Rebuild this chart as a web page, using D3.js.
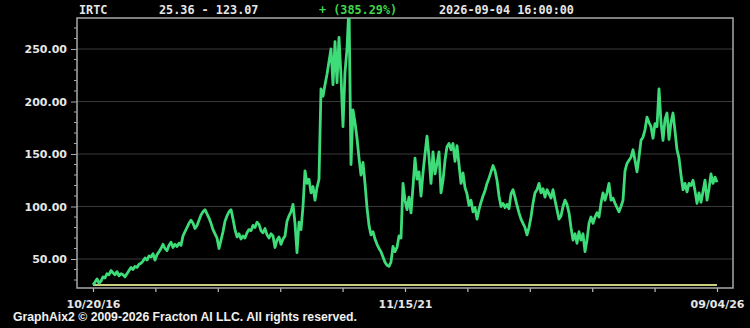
<!doctype html>
<html lang="en">
  <head>
    <meta charset="utf-8">
    <script src="https://cdn.jsdelivr.net/npm/d3@7/dist/d3.min.js"></script>
    <style>
      html, body { margin:0; padding:0; background:#000 }
      svg { display:block }
      .ylab, .xlab { font-family: "DejaVu Sans", sans-serif; font-weight:bold; font-size:11px; fill:#e6e6e6 }
      .head { font-family: "DejaVu Sans Mono", monospace; font-weight:bold; font-size:11.8px; fill:#e6e6e6 }
    </style>
    <title>IRTC</title>
  </head>
  <body>
    <script>
      // closing prices, evenly spaced sessions
      const closes = [
        25.4, 28, 31, 27, 29, 33, 32, 36, 35, 39,
        37, 35, 38, 34, 36, 35, 33, 36, 39, 42,
        40, 43, 42, 45, 46, 48, 51, 49, 53, 52,
        55, 49, 54, 57, 60, 64, 60, 58, 63, 66,
        61, 64, 62, 65, 63, 72, 76, 80, 84, 87,
        84, 79, 82, 87, 92, 95, 97, 93, 89, 84,
        78, 74, 70, 60, 68, 76, 86, 91, 95, 97,
        88, 78, 71, 74, 69, 72, 70, 75, 78, 77,
        82, 80, 85, 83, 77, 75, 79, 73, 70, 74,
        72, 61, 68, 71, 64, 69, 72, 86, 91, 95,
        102, 84, 56, 85, 78, 100, 134, 122, 126, 113,
        119, 106, 118, 126, 212, 205, 216, 226, 238, 250,
        216, 257, 218, 261, 224, 176, 228, 250, 292, 140,
        192, 180, 165, 146, 130, 142, 122, 99, 82, 73,
        76, 69, 64, 60, 57, 52, 47, 44, 43, 47,
        62, 57, 61, 72, 70, 122, 106, 97, 109, 94,
        119, 146, 126, 133, 110, 132, 150, 167, 147, 122,
        152, 131, 141, 152, 113, 125, 144, 157, 160, 154,
        160, 143, 158, 140, 122, 132, 118, 112, 101, 106,
        95, 99, 88, 97, 104, 110, 115, 122, 127, 133,
        139, 134, 125, 110, 100, 103, 99, 102, 98, 112,
        116, 109, 101, 94, 88, 84, 80, 73, 80, 90,
        103, 113, 116, 122, 113, 117, 109, 116, 112, 108,
        116, 106, 97, 88, 91, 100, 106, 102, 94, 80,
        68, 74, 65, 76, 68, 74, 57, 68, 84, 90,
        84, 90, 94, 90, 103, 113, 106, 113, 122, 106,
        108, 103, 99, 95, 100, 106, 134, 141, 144, 147,
        154, 144, 133, 147, 163, 166, 173, 185, 180, 176,
        165, 179, 176, 212, 180, 163, 183, 189, 164, 180,
        189, 172, 154, 146, 130, 116, 122, 114, 122, 120,
        125, 115, 103, 113, 104, 114, 125, 106, 117, 131,
        122, 128, 123.07
      ];
      const baseline = 25.36;
      const yTicks = [50, 100, 150, 200, 250];
      const xTickIdx = [0, 156, 312];
      const xTickLabels = ["10/20/16", "11/15/21", "09/04/26"];
      const header = ["IRTC", "25.36 - 123.07", "+ (385.29%)", "2026-09-04  16:00:00"];
      const copyright = "GraphAix2 \u00a9 2009-2026 Fracton AI LLC. All rights reserved.";

      let W = 750, H = 328;
      let margin = {left:77, right:733, top:18, bottom:288};
      let n = closes.length - 1;

      let x = d3.scaleLinear().domain([0, n]).range([93, 717]);
      let y = d3.scaleLinear().domain([22.4, 279.5]).range([margin.bottom, margin.top]);

      let svg = d3.select("body").append("svg")
        .attr("width", W)
        .attr("height", H)
        .style("background", "#000");

      svg.append("clipPath").attr("id", "plot")
        .append("rect")
        .attr("x", margin.left).attr("y", margin.top)
        .attr("width", margin.right - margin.left).attr("height", margin.bottom - margin.top);

      // grid
      svg.append("g").selectAll("line")
        .data(yTicks)
        .enter().append("line")
        .attr("x1", margin.left).attr("x2", margin.right)
        .attr("y1", d => y(d)).attr("y2", d => y(d))
        .attr("stroke", "#3a3a3a")
        .attr("stroke-width", 1.2);

      // y axis: major ticks with labels, minor every 10
      let yAxis = d3.axisLeft(y)
        .tickValues(yTicks)
        .tickFormat(d3.format(".2f"))
        .tickSize(6)
        .tickPadding(4);
      let ya = svg.append("g")
        .attr("transform", "translate(" + margin.left + ",0)")
        .call(yAxis);
      ya.select(".domain").remove();
      ya.selectAll("line").attr("stroke", "#aaa");
      ya.selectAll("text").attr("class", "ylab").attr("fill", null).attr("dy", "0.35em");

      let minorY = d3.range(30, 280, 10).filter(v => v % 50 != 0);
      svg.append("g").selectAll("line")
        .data(minorY)
        .enter().append("line")
        .attr("x1", margin.left - 3).attr("x2", margin.left)
        .attr("y1", d => y(d)).attr("y2", d => y(d))
        .attr("stroke", "#aaa");

      // x axis ticks (10 intervals)
      let xAll = d3.range(11).map(k => k * n / 10);
      let xAxis = d3.axisBottom(x)
        .tickValues(xAll)
        .tickSize(4)
        .tickFormat(d => {
          let i = xTickIdx.indexOf(Math.round(d));
          return i >= 0 ? xTickLabels[i] : "";
        });
      let xa = svg.append("g")
        .attr("transform", "translate(0," + margin.bottom + ")")
        .call(xAxis);
      xa.select(".domain").remove();
      xa.selectAll("line").attr("stroke", "#bbb").attr("stroke-width", 1.2);
      xa.selectAll("text").attr("class", "xlab").attr("fill", null).attr("dy", "1.2em");

      // frame
      svg.append("rect")
        .attr("x", margin.left).attr("y", margin.top)
        .attr("width", margin.right - margin.left).attr("height", margin.bottom - margin.top)
        .attr("fill", "none")
        .attr("stroke", "#a8a8a8")
        .attr("stroke-width", 1.5);

      let plot = svg.append("g").attr("clip-path", "url(#plot)");

      // baseline at the low of the range
      plot.append("line")
        .attr("x1", x(0)).attr("x2", x(n))
        .attr("y1", y(baseline)).attr("y2", y(baseline))
        .attr("stroke", "#c9cf7f")
        .attr("stroke-width", 2);

      let line = d3.line()
        .x((d, i) => x(i))
        .y(d => y(d));

      plot.append("path")
        .datum(closes)
        .attr("d", line)
        .attr("fill", "none")
        .attr("stroke", "#3ddc78")
        .attr("stroke-width", 2.8)
        .attr("stroke-linejoin", "round");

      // header
      let hx = [79, 159, 319, 439];
      svg.append("g").selectAll("text")
        .data(header)
        .enter().append("text")
        .attr("class", "head")
        .attr("x", (d, i) => hx[i])
        .attr("y", 14)
        .style("fill", (d, i) => i == 2 ? "#3fd64a" : null)
        .text(d => d);

      svg.append("text")
        .attr("x", 13)
        .attr("y", 321)
        .attr("textLength", 344)
        .attr("lengthAdjust", "spacingAndGlyphs")
        .style("font-family", "'Liberation Sans', Arial, sans-serif")
        .style("font-weight", "bold")
        .style("font-size", "12px")
        .style("fill", "#f0f0f0")
        .text(copyright);
    </script>
  </body>
</html>
